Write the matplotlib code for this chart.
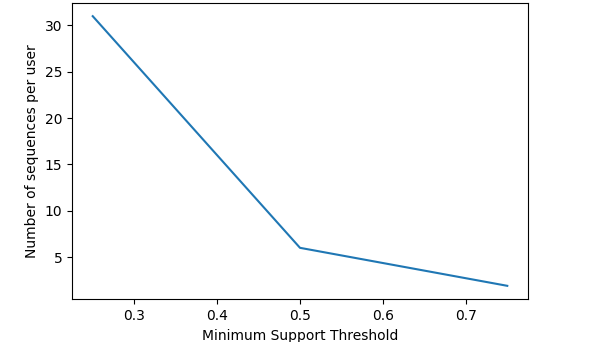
import matplotlib
matplotlib.use('Agg')
import matplotlib.pyplot as plt

min_support = [0.25, 0.5, 0.75]
sequences_per_user = [31.0, 6.0, 1.9]

fig = plt.figure(figsize=(6.01, 3.42), dpi=100)
ax = fig.add_axes([72 / 601, 1 - 299.3 / 342, 456 / 601, 296.6 / 342])
ax.plot(min_support, sequences_per_user)
ax.set_xlabel('Minimum Support Threshold')
ax.set_ylabel('Number of sequences per user')
fig.savefig('out.png', dpi=100)
